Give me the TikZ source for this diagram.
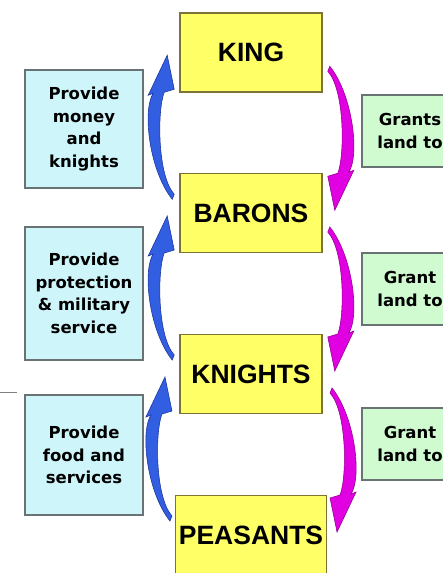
\documentclass[tikz,border=0pt]{standalone}
\usepackage{fontspec}
\usetikzlibrary{calc}
\newfontfamily\rankfont{Liberation Sans}
\newfontfamily\dutyfont{DejaVu Sans}
\definecolor{rankyellow}{RGB}{255,255,102}
\definecolor{rankedge}{RGB}{125,115,55}
\definecolor{dutyblue}{RGB}{205,245,250}
\definecolor{grantgreen}{RGB}{208,250,208}
\definecolor{boxedge}{RGB}{105,115,115}
\definecolor{upblue}{RGB}{50,95,225}
\definecolor{upblueedge}{RGB}{30,55,160}
\definecolor{downpink}{RGB}{225,0,225}
\definecolor{downpinkedge}{RGB}{150,0,150}

\begin{document}
\begin{tikzpicture}[x=1pt,y=-1pt,
    rank/.style={draw=rankedge,fill=rankyellow,line width=1.6pt,minimum width=142pt,minimum height=79pt,
        font=\rankfont\bfseries\fontsize{26.5}{30}\selectfont},
    duty/.style={draw=boxedge,fill=dutyblue,line width=1.3pt,minimum width=118pt,align=center,
        font=\dutyfont\bfseries\fontsize{16.5}{22.5}\selectfont},
    grant/.style={duty,fill=grantgreen,minimum width=96pt,minimum height=72pt},
    flow/.pic={
        \path[pic actions] (-12,-77.5) -- (-5,-43.5) -- (-15,-40.5)
            .. controls (-22,-22.5) and (-22,42.5) .. (-5,61.5) -- (-7,66.5)
            .. controls (-30,37.5) and (-37,-22.5) .. (-26,-39.5) -- (-31,-37.5) -- cycle;
    }]
        \useasboundingbox (0,0) rectangle (443,573);
        \clip (0,0) rectangle (443,573);

        \node (king) at (251, 52.5) [rank] {KING};
        \node (barons) at (251, 213) [rank] {BARONS};
        \node (knights) at (251, 374) [rank] {KNIGHTS};
        \node (peasants) at (251, 535) [rank] {PEASANTS};

        \node (money) at (84, 129) [duty,minimum height=118pt] {Provide\\money\\and\\knights};
        \node (service) at (84, 293.5) [duty,minimum height=133pt] {Provide\\protection\\\& military\\service};
        \node (food) at (84, 455) [duty,minimum height=120pt] {Provide\\food and\\services};

        \node (grant1) at (410, 131) [grant] {Grants\\land to};
        \node (grant2) at (410, 289) [grant] {Grant\\land to};
        \node (grant3) at (410, 444) [grant] {Grant\\land to};

        \pic[fill=upblue,draw=upblueedge,line width=0.6pt] at ($(king.south west)!0.5!(barons.north west)$) {flow};
        \pic[fill=upblue,draw=upblueedge,line width=0.6pt] at ($(barons.south west)!0.5!(knights.north west)$) {flow};
        \pic[fill=upblue,draw=upblueedge,line width=0.6pt] at ($(knights.south west)!0.5!(peasants.north west)$) {flow};

        \pic[fill=downpink,draw=downpinkedge,line width=0.6pt,rotate=180] at ($(king.south east)!0.5!(barons.north east)$) {flow};
        \pic[fill=downpink,draw=downpinkedge,line width=0.6pt,rotate=180] at ($(barons.south east)!0.5!(knights.north east)$) {flow};
        \pic[fill=downpink,draw=downpinkedge,line width=0.6pt,rotate=180] at ($(knights.south east)!0.5!(peasants.north east)$) {flow};

        \draw[gray,line width=0.8pt] (0, 392) -- (17, 392);
    \end{tikzpicture}
\end{document}
